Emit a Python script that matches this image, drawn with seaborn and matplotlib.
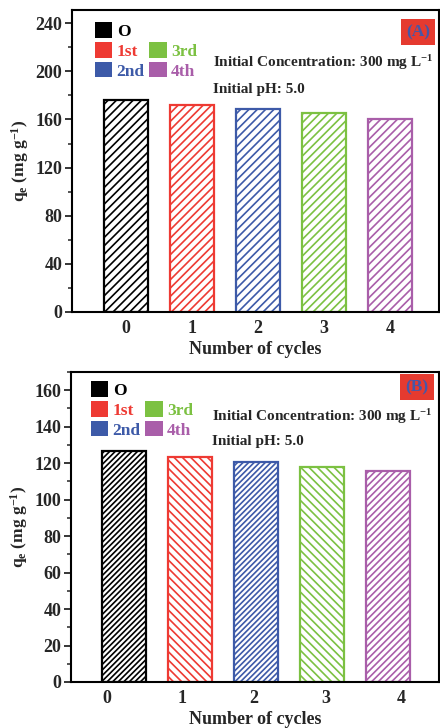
import matplotlib
matplotlib.use("Agg")
import matplotlib.pyplot as plt
import numpy as np
import pandas as pd
import seaborn as sns
from matplotlib.patches import Patch
from matplotlib.ticker import MultipleLocator

# ---- data ----
cycles = ["0", "1", "2", "3", "4"]
qe_A = [176.0, 172.0, 168.5, 165.0, 160.0]
qe_B = [126.5, 123.5, 120.5, 118.0, 115.5]
legend_labels = ["O", "1st", "2nd", "3rd", "4th"]
colors = ["#000000", "#ee3a33", "#3d5aa8", "#7cc142", "#a95ea9"]
hatches_A = ["////", "////", "////", "////", "////"]
hatches_B = ["//////", "\\\\\\\\", "//////", "\\\\\\\\", "/////"]
panel_tags = ["(A)", "(B)"]
conc_text = "Initial Concentration: 300 mg L$^{-1}$"
ph_text = "Initial pH: 5.0"
xlabel = "Number of cycles"
ylabel = r"q$_\mathregular{e}$ (mg g$^{-1}$)"

sns.set_style("ticks")
plt.rcParams["font.family"] = ["Liberation Serif", "DejaVu Serif"]
plt.rcParams["font.weight"] = "bold"
plt.rcParams["mathtext.fontset"] = "custom"
plt.rcParams["mathtext.rm"] = "Liberation Serif:bold"
plt.rcParams["mathtext.bf"] = "Liberation Serif:bold"
plt.rcParams["mathtext.it"] = "Liberation Serif:bold"
plt.rcParams["mathtext.default"] = "bf"
plt.rcParams["hatch.linewidth"] = 1.2

W, H = 440, 728
fig = plt.figure(figsize=(W / 100, H / 100), dpi=100)


def fx(px):
    return px / W


def fy(py):
    return 1 - py / H


# axes boxes in pixels: left, top, right, bottom
boxA = (72, 10, 439, 312)
boxB = (71, 372, 439, 682)
axA = fig.add_axes([fx(boxA[0]), fy(boxA[3]), fx(boxA[2] - boxA[0]), (boxA[3] - boxA[1]) / H])
axB = fig.add_axes([fx(boxB[0]), fy(boxB[3]), fx(boxB[2] - boxB[0]), (boxB[3] - boxB[1]) / H])


def draw_panel(ax, vals, hatches, ylim, major, minor, xlim):
    df = pd.DataFrame({"cycle": cycles, "qe": vals})
    sns.barplot(data=df, x="cycle", y="qe", hue="cycle", palette=colors,
                fill=False, width=0.67, linewidth=1.6, legend=False,
                errorbar=None, ax=ax)
    for p, h, c in zip(ax.patches, hatches, colors):
        p.set_hatch(h)
        p.set_edgecolor(c)
        p.set_facecolor("none")
        try:
            p.set_hatchcolor(c)
        except Exception:
            pass
    ax.set_ylim(*ylim)
    ax.set_xlim(*xlim)
    ax.yaxis.set_major_locator(MultipleLocator(major))
    ax.yaxis.set_minor_locator(MultipleLocator(minor))
    for s in ax.spines.values():
        s.set_linewidth(1.5)
        s.set_color("black")
    ax.tick_params(axis="y", which="major", length=5, width=1.3, labelsize=13,
                   direction="out", pad=2)
    ax.tick_params(axis="y", which="minor", length=3, width=1.1, direction="out")
    ax.tick_params(axis="x", which="both", length=0, labelsize=13, pad=6)
    for lab in ax.get_xticklabels() + ax.get_yticklabels():
        lab.set_fontweight("bold")
    ax.set_xlabel(xlabel, fontsize=13, fontweight="bold", labelpad=3)
    ax.set_ylabel(ylabel, fontsize=12.5, fontweight="bold", labelpad=3)


draw_panel(axA, qe_A, hatches_A, (0, 251), 40, 20, (-0.818, 4.74))
draw_panel(axB, qe_B, hatches_B, (0, 170), 20, 10, (-0.80, 4.77))

# bottom panel tick labels sit slightly offset from the bars in the reference
axB.set_xticks([-0.26, 0.88, 1.97, 3.06, 4.2])
axB.set_xticklabels(cycles, fontweight="bold", fontsize=13)

leg_prop = {"family": "Liberation Serif", "weight": "bold", "size": 12.5}


def add_legend(ax, x0, y0):
    h0 = [Patch(facecolor=colors[0], edgecolor="none")]
    l1 = ax.legend(h0, legend_labels[:1], loc="upper left",
                   bbox_to_anchor=(fx(x0), fy(y0)), bbox_transform=fig.transFigure,
                   frameon=False, prop=leg_prop, handlelength=1.0, handleheight=1.0,
                   handletextpad=0.25, borderpad=0, borderaxespad=0,
                   labelcolor=[colors[0]])
    ax.add_artist(l1)
    hs = [Patch(facecolor=c, edgecolor="none") for c in colors[1:]]
    ax.legend(hs, legend_labels[1:], loc="upper left", ncol=2,
              bbox_to_anchor=(fx(x0), fy(y0 + 20)), bbox_transform=fig.transFigure,
              frameon=False, prop=leg_prop, handlelength=1.0, handleheight=1.0,
              handletextpad=0.25, columnspacing=0.25, labelspacing=0.12,
              borderpad=0, borderaxespad=0, labelcolor=colors[1:])


add_legend(axA, 95, 22)
add_legend(axB, 91, 21 + 360)


def add_texts(y_conc, y_ph, x_left, tag, tag_x, tag_y):
    fig.text(fx(x_left), fy(y_conc), conc_text, fontsize=11, fontweight="bold",
             va="center", ha="left")
    fig.text(fx(x_left), fy(y_ph), ph_text, fontsize=11, fontweight="bold",
             va="center", ha="left")
    fig.text(fx(tag_x), fy(tag_y), tag, fontsize=12.5, fontweight="bold",
             color="#4657a8", va="center", ha="center",
             bbox=dict(facecolor="#e53a2f", edgecolor="none", boxstyle="square,pad=0.3"))


add_texts(63, 89, 213, panel_tags[0], 418, 32)
add_texts(417, 442, 212, panel_tags[1], 417, 387)

fig.savefig("out.png", dpi=100)
